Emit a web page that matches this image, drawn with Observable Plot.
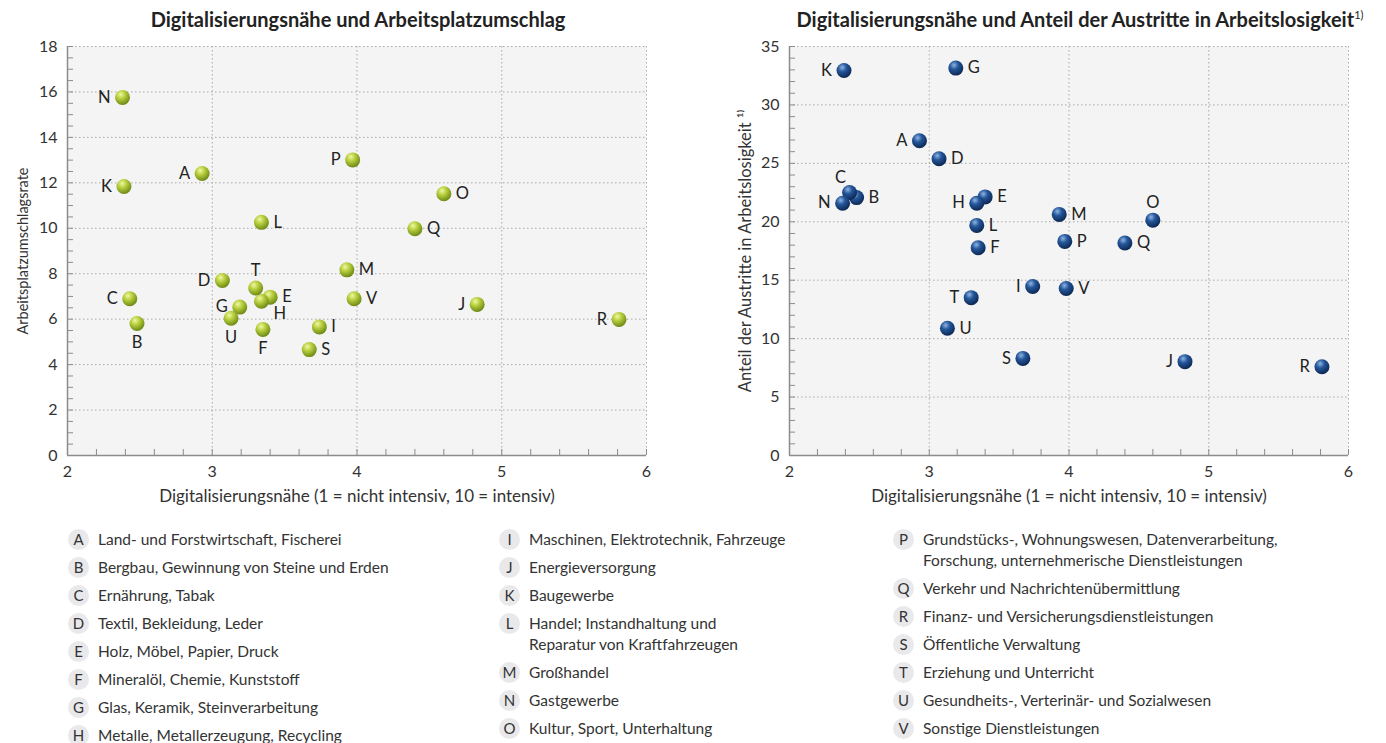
<!DOCTYPE html>
<html><head><meta charset="utf-8">
<script src="https://cdn.jsdelivr.net/npm/d3@7"></script>
<script src="https://cdn.jsdelivr.net/npm/@observablehq/plot@0.6"></script>
<style>
body{margin:0;background:#fff;font-family:Lato,"Noto Sans",sans-serif;color:#333;}
#wrap{position:relative;width:1386px;height:743px;overflow:hidden;}
.chart{position:absolute;top:0;}
.title{position:absolute;top:7px;font-weight:bold;font-size:20px;color:#222;text-align:center;white-space:nowrap;}
.title sup{font-size:11px;font-weight:normal;vertical-align:8px;}
.col{position:absolute;top:529px;}
.item{display:flex;align-items:flex-start;margin-bottom:7px;}
.badge{flex:none;width:21px;height:21px;border-radius:50%;background:#e9e9ec;font-size:15px;line-height:21px;text-align:center;margin-right:9px;color:#333;}
.txt{font-size:15.5px;line-height:21px;white-space:pre-line;color:#333;}
</style>
</head><body>
<div id="wrap">
  <div class="chart" id="c1" style="left:0"></div>
  <div class="chart" id="c2" style="left:700px"></div>
  <div class="title" style="left:58px;width:600px">Digitalisierungsnähe und Arbeitsplatzumschlag</div>
  <div class="title" style="left:780px;width:600px">Digitalisierungsnähe und Anteil der Austritte in Arbeitslosigkeit<sup>1)</sup></div>
  <div class="col" id="l1" style="left:68px"></div>
  <div class="col" id="l2" style="left:499px"></div>
  <div class="col" id="l3" style="left:893px"></div>
</div>
<script>
// ---- data ----
const letters = ["A","B","C","D","E","F","G","H","I","J","K","L","M","N","O","P","Q","R","S","T","U","V"];
const names = [
  "Land- und Forstwirtschaft, Fischerei",
  "Bergbau, Gewinnung von Steine und Erden",
  "Ernährung, Tabak",
  "Textil, Bekleidung, Leder",
  "Holz, Möbel, Papier, Druck",
  "Mineralöl, Chemie, Kunststoff",
  "Glas, Keramik, Steinverarbeitung",
  "Metalle, Metallerzeugung, Recycling",
  "Maschinen, Elektrotechnik, Fahrzeuge",
  "Energieversorgung",
  "Baugewerbe",
  "Handel; Instandhaltung und\nReparatur von Kraftfahrzeugen",
  "Großhandel",
  "Gastgewerbe",
  "Kultur, Sport, Unterhaltung",
  "Grundstücks-, Wohnungswesen, Datenverarbeitung,\nForschung, unternehmerische Dienstleistungen",
  "Verkehr und Nachrichtenübermittlung",
  "Finanz- und Versicherungsdienstleistungen",
  "Öffentliche Verwaltung",
  "Erziehung und Unterricht",
  "Gesundheits-, Verterinär- und Sozialwesen",
  "Sonstige Dienstleistungen"
];
const digital  = [2.93,2.48,2.43,3.07,3.40,3.35,3.19,3.34,3.74,4.83,2.39,3.34,3.93,2.38,4.60,3.97,4.40,5.81,3.67,3.30,3.13,3.98];
const turnover = [12.41,5.81,6.90,7.70,6.97,5.55,6.53,6.79,5.66,6.65,11.84,10.26,8.17,15.76,11.52,13.01,9.98,5.99,4.66,7.37,6.04,6.90];
const exitUnemp = [26.93,22.07,22.5,25.4,22.13,17.78,33.15,21.59,14.46,8.03,32.95,19.69,20.63,21.59,20.14,18.32,18.18,7.6,8.31,13.51,10.89,14.29];
const xTicks = [2,3,4,5,6];
const yTicks1 = [0,2,4,6,8,10,12,14,16,18];
const yTicks2 = [0,5,10,15,20,25,30,35];
const xLabel = "Digitalisierungsnähe (1 = nicht intensiv, 10 = intensiv)";
const yLabel1 = "Arbeitsplatzumschlagsrate";
const yLabel2 = "Anteil der Austritte in Arbeitslosigkeit \u00B9\u207E";

// label placement (layout)
const side1 = "l b l l r b l br r l l r r l r l r l r t b r".split(" ");
const side2 = "l r tl r r r r l l l l r r l t r r l l l r r".split(" ");
const offsets = {l:[-12,0,"end"], r:[12,0,"start"], t:[0,-17,"middle"], b:[0,19,"middle"], br:[12,13,"start"], tl:[-9,-15,"middle"]};

function chart(el, yVals, yTicks, yMinorStep, yLabel, yLabelSize, sides, gradId, stops, width, mLeft, mRight) {
  const rows = letters.map((k,i)=>({k, d:digital[i], v:yVals[i], side:sides[i]}));
  const innerW = width - mLeft - mRight, innerH = 510 - 46 - 55;
  const yMax = yTicks[yTicks.length-1];
  const xMinor = d3.range(2, 6.0001, 0.2);
  const yMinor = d3.range(0, yMax + 0.0001, yMinorStep);
  const gridStyle = {stroke:"#a9a9a9", strokeOpacity:1, strokeWidth:1, strokeDasharray:"1.5,2.5"};
  const textMarks = Object.keys(offsets).map(s => {
    const [dx,dy,anchor] = offsets[s];
    return Plot.text(rows.filter(r=>r.side===s), {x:"d", y:"v", text:"k", dx, dy, textAnchor:anchor, fontSize:16.5, fill:"#222"});
  });
  const p = Plot.plot({
    width, height:510, marginTop:46, marginBottom:55, marginLeft:mLeft, marginRight:mRight,
    x:{domain:[2,6]}, y:{domain:[0,yMax]},
    style:{fontFamily:"Lato, 'Noto Sans', sans-serif", fontSize:"16px", color:"#333", background:"transparent", overflow:"visible"},
    marks:[
      Plot.frame({fill:"#f4f4f4", stroke:null}),
      Plot.gridX({ticks:xTicks.slice(1), ...gridStyle}),
      Plot.gridY({ticks:yTicks.slice(1), ...gridStyle}),
      Plot.tickX(xMinor, {x:d=>d, insetTop:innerH-6, stroke:"#8c8c8c", strokeWidth:1}),
      Plot.tickY(yMinor, {y:d=>d, insetRight:innerW-6, stroke:"#8c8c8c", strokeWidth:1}),
      Plot.ruleX([2], {stroke:"#8c8c8c", strokeWidth:1.5}),
      Plot.ruleY([0], {stroke:"#8c8c8c", strokeWidth:1.5}),
      Plot.axisX({ticks:xTicks, tickSize:0, tickPadding:10, tickFormat:d3.format("d"), label:null, fontSize:16}),
      Plot.axisX({ticks:[], label:xLabel, labelAnchor:"center", labelOffset:46, labelArrow:"none", fontSize:17}),
      Plot.axisY({ticks:yTicks, tickSize:0, tickPadding:10, tickFormat:d3.format("d"), label:null, fontSize:16}),
      Plot.axisY({ticks:[], label:yLabel, labelAnchor:"center", labelOffset:50, labelArrow:"none", fontSize:yLabelSize}),
      Plot.dot(rows, {x:"d", y:"v", r:7.5, fill:`url(#${gradId})`, stroke:"none"}),
      ...textMarks
    ]
  });
  const g = d3.select(p).insert("defs", ":first-child").append("radialGradient")
    .attr("id", gradId).attr("cx","38%").attr("cy","30%").attr("r","72%");
  stops.forEach(([o,c]) => g.append("stop").attr("offset", o).attr("stop-color", c));
  document.getElementById(el).appendChild(p);
}

chart("c1", turnover, yTicks1, 0.5, yLabel1, 14.5, side1, "gGreen",
  [["0%","#f0f7a6"],["40%","#b8cf3e"],["100%","#6a8614"]], 660, 67, 14);
chart("c2", exitUnemp, yTicks2, 1, yLabel2, 16.5, side2, "gBlue",
  [["0%","#8fb4e2"],["40%","#24569a"],["100%","#0c2650"]], 686, 89, 38);

// legend
const cols = [["l1",0,8],["l2",8,15],["l3",15,22]];
cols.forEach(([id,a,b]) => {
  const col = document.getElementById(id);
  for (let i=a;i<b;i++) {
    const it = document.createElement("div"); it.className="item";
    const bd = document.createElement("div"); bd.className="badge"; bd.textContent = letters[i];
    const tx = document.createElement("div"); tx.className="txt"; tx.textContent = names[i];
    it.appendChild(bd); it.appendChild(tx); col.appendChild(it);
  }
});
</script>
</body></html>
